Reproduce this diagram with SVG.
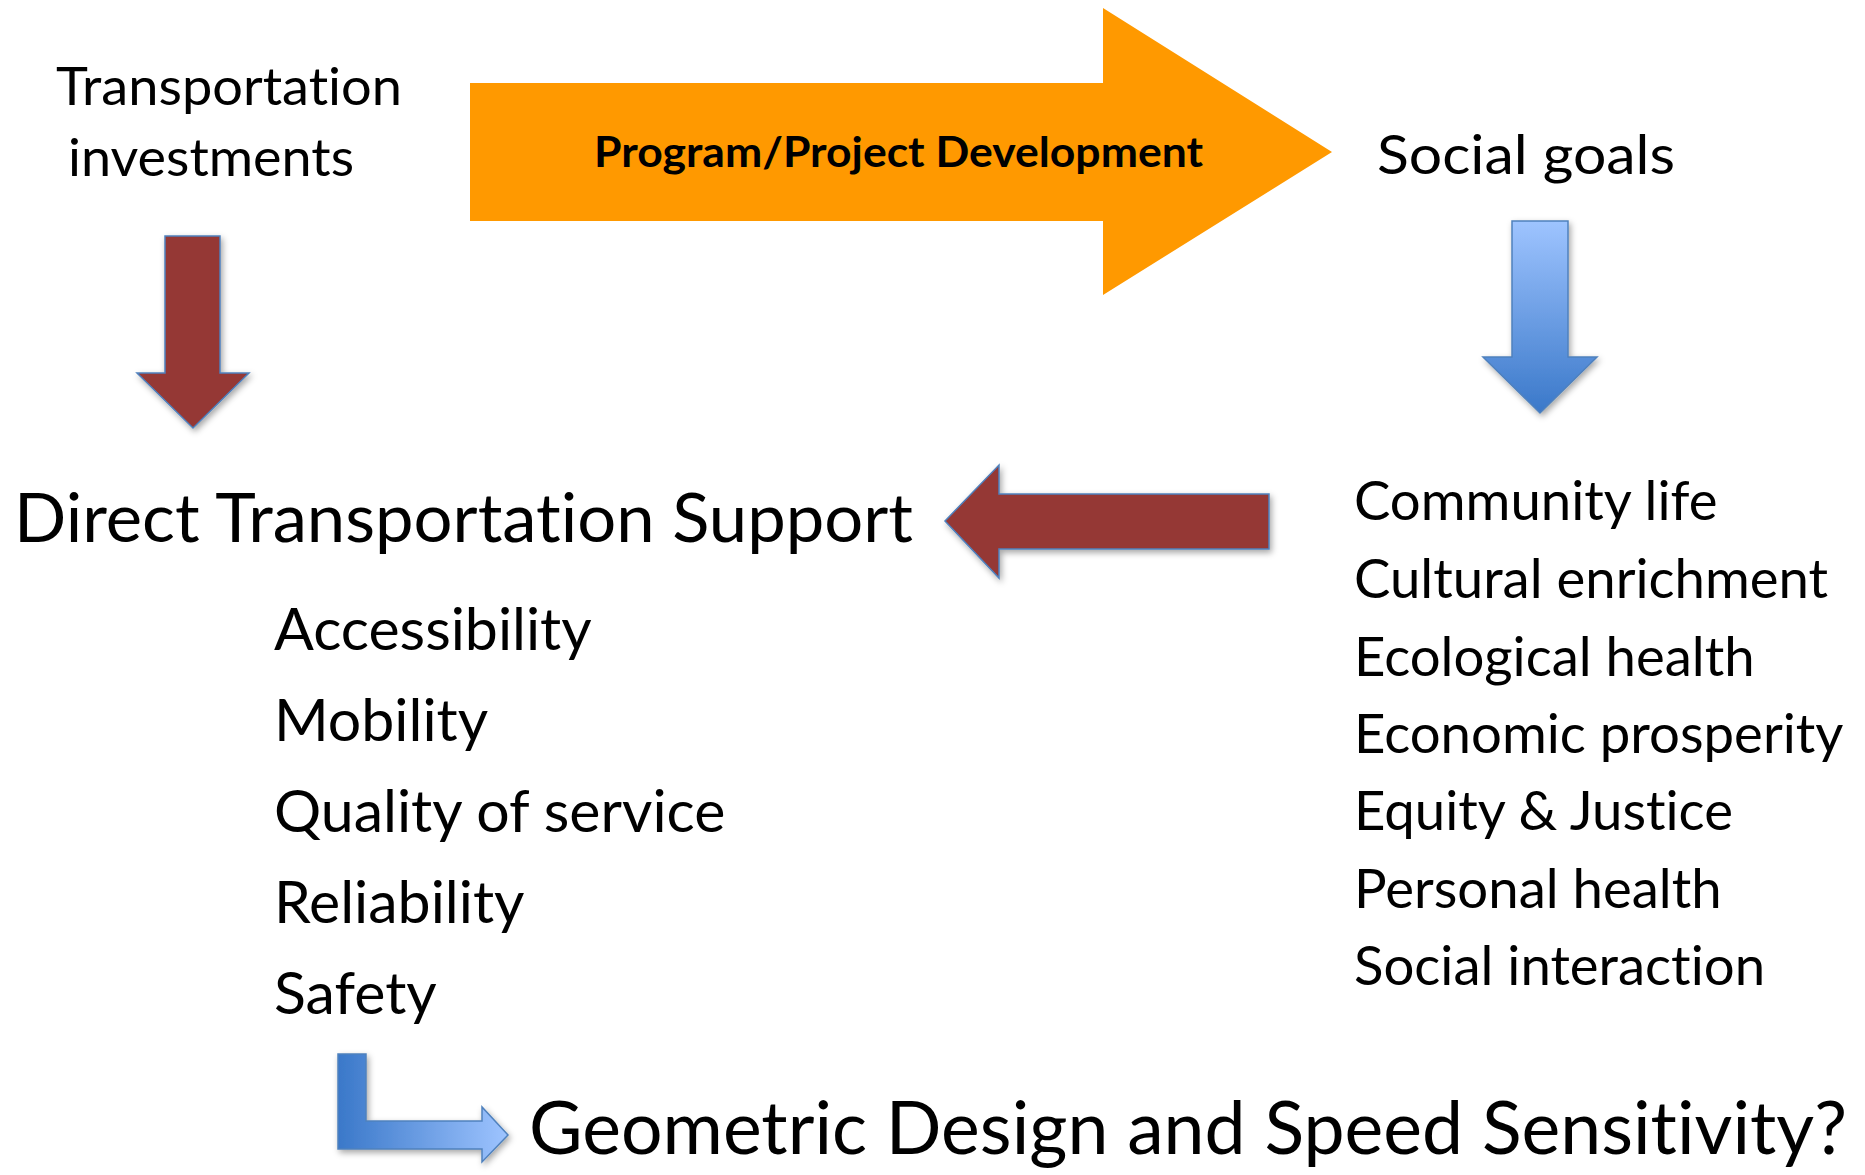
<svg xmlns="http://www.w3.org/2000/svg" width="1865" height="1175" viewBox="0 0 1865 1175">
<style>
text{font-family:Lato,"Liberation Sans",sans-serif;fill:#000;font-variant-ligatures:none;font-feature-settings:"liga" 0,"clig" 0}
.t1{font-size:53px}
.sg{font-size:55px}
.hd{font-size:68px}
.li{font-size:59px}
.ri{font-size:54.5px}
.bd{font-size:42px;font-weight:bold}
.gm{font-size:73px}
.blk{stroke:#4F81BD;stroke-width:1.5;stroke-linejoin:miter}
</style>
<defs>
<filter id="sh" x="-20%" y="-20%" width="150%" height="150%">
<feDropShadow dx="2" dy="3" stdDeviation="3" flood-color="#000" flood-opacity="0.35"/>
</filter>
<linearGradient id="gv" x1="0" y1="0" x2="0" y2="1">
<stop offset="0" stop-color="#9EC4FF"/>
<stop offset="1" stop-color="#3A78C9"/>
</linearGradient>
<linearGradient id="gh" x1="0" y1="0" x2="1" y2="0">
<stop offset="0" stop-color="#3A78C9"/>
<stop offset="1" stop-color="#9EC4FF"/>
</linearGradient>
</defs>
<rect width="1865" height="1175" fill="#fff"/>
<g id="connectors">
<polygon id="orange-arrow" points="470,83 1103,83 1103,8 1332,152 1103,295 1103,221 470,221" fill="#FF9900"/>
<polygon id="down-red" class="blk" filter="url(#sh)" points="165,236 220,236 220,373 249,373 193,428 137,373 165,373" fill="#953735"/>
<polygon id="down-blue" class="blk" filter="url(#sh)" points="1512,221 1568,221 1568,357 1597,357 1540,413 1483,357 1512,357" fill="url(#gv)"/>
<polygon id="left-red" class="blk" filter="url(#sh)" points="1269,494 1269,549 999,549 999,578 945,521 999,465 999,494" fill="#953735"/>
<polygon id="l-blue" class="blk" filter="url(#sh)" points="338,1054 366,1054 366,1121 482,1121 482,1107 508,1135 482,1162 482,1149 338,1149" fill="url(#gh)"/>
</g>
<g id="node-investments">
<text class="t1" x="56" y="105" textLength="346" lengthAdjust="spacingAndGlyphs">Transportation</text>
<text class="t1" x="68" y="176" textLength="286" lengthAdjust="spacingAndGlyphs">investments</text>
</g>
<g id="node-program">
<text class="bd" x="594" y="167" textLength="609" lengthAdjust="spacingAndGlyphs">Program/Project Development</text>
</g>
<g id="node-social-goals">
<text class="sg" x="1377" y="174" textLength="298" lengthAdjust="spacingAndGlyphs">Social goals</text>
</g>
<g id="node-direct">
<text class="hd" x="14" y="542" textLength="899" lengthAdjust="spacingAndGlyphs">Direct Transportation Support</text>
</g>
<g id="node-direct-list">
<text class="li" x="274" y="650">Accessibility</text>
<text class="li" x="274" y="741">Mobility</text>
<text class="li" x="274" y="832">Quality of service</text>
<text class="li" x="274" y="923">Reliability</text>
<text class="li" x="274" y="1014">Safety</text>
</g>
<g id="node-goals-list">
<text class="ri" x="1354" y="520">Community life</text>
<text class="ri" x="1354" y="598">Cultural enrichment</text>
<text class="ri" x="1354" y="676">Ecological health</text>
<text class="ri" x="1354" y="753">Economic prosperity</text>
<text class="ri" x="1354" y="830">Equity &amp; Justice</text>
<text class="ri" x="1354" y="908">Personal health</text>
<text class="ri" x="1354" y="985">Social interaction</text>
</g>
<g id="node-geometric">
<text class="gm" x="529" y="1154" textLength="1318" lengthAdjust="spacingAndGlyphs">Geometric Design and Speed Sensitivity?</text>
</g>
</svg>
